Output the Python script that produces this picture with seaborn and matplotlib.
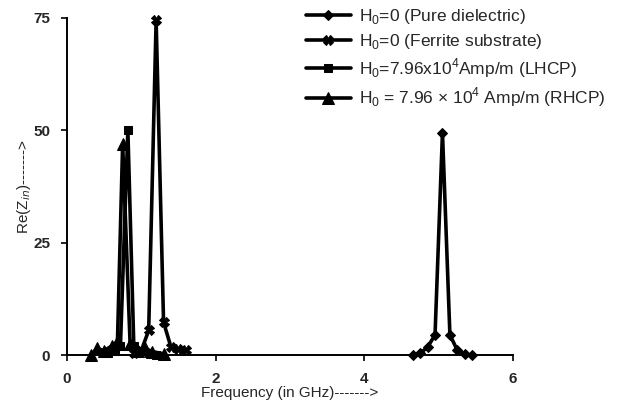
import numpy as np
import pandas as pd
import matplotlib
matplotlib.use("Agg")
import matplotlib.pyplot as plt
import seaborn as sns

# Data
pure_x = [4.65, 4.75, 4.85, 4.95, 5.05, 5.15, 5.25, 5.35, 5.45]
pure_y = [0.0, 0.4, 1.8, 4.5, 49.5, 4.5, 1.1, 0.2, 0.0]

ferr_x = [0.9, 1.0, 1.1, 1.2, 1.3, 1.4, 1.5, 1.6]
ferr_y = [0.5, 1.0, 5.5, 74.5, 7.3, 1.8, 1.3, 1.1]

lhcp_x = [0.55, 0.65, 0.72, 0.82, 0.9, 1.0, 1.1, 1.2]
lhcp_y = [0.5, 1.0, 2.0, 50.0, 2.0, 1.0, 0.5, 0.0]

rhcp_x = [0.32, 0.41, 0.5, 0.6, 0.68, 0.75, 0.85, 0.95, 1.05, 1.15, 1.3]
rhcp_y = [0.0, 1.5, 1.0, 2.0, 3.0, 47.0, 2.5, 1.0, 1.5, 0.8, 0.3]

labels = [r"H$_0$=0 (Pure dielectric)",
          r"H$_0$=0 (Ferrite substrate)",
          r"H$_0$=7.96x10$^4$Amp/m (LHCP)",
          r"H$_0$ = 7.96 × 10$^4$ Amp/m (RHCP)"]
markers = ["D", "X", "s", "^"]
xticks = [0, 2, 4, 6]
yticks = [0, 25, 50, 75]

sns.set_style("ticks")
plt.rcParams["font.family"] = ["Liberation Sans", "DejaVu Sans"]
plt.rcParams["mathtext.fontset"] = "custom"
plt.rcParams["mathtext.rm"] = "Liberation Sans"

fig = plt.figure(figsize=(6.25, 4.05), dpi=100)
ax = fig.add_axes([0.107, 0.123, 0.714, 0.833])

series = [(pure_x, pure_y), (ferr_x, ferr_y), (lhcp_x, lhcp_y), (rhcp_x, rhcp_y)]
msizes = [5.5, 7, 6, 8]
for (xs, ys), lab, mk, ms in zip(series, labels, markers, msizes):
    df = pd.DataFrame({"x": xs, "y": ys})
    sns.lineplot(data=df, x="x", y="y", ax=ax, color="black", linewidth=2.6,
                 marker=mk, markersize=ms, markeredgecolor="black",
                 markerfacecolor="black", label=lab, clip_on=False,
                 sort=False, estimator=None)

ax.set_xlim(0, 6)
ax.set_ylim(0, 75)
ax.set_xticks(xticks)
ax.set_yticks(yticks)
ax.set_xticklabels([str(t) for t in xticks], fontsize=11, fontweight="bold")
ax.set_yticklabels([str(t) for t in yticks], fontsize=11, fontweight="bold")
ax.tick_params(direction="out", length=4, width=1.2, color="black", pad=8)
for s in ["left", "bottom"]:
    ax.spines[s].set_linewidth(1.4)
    ax.spines[s].set_color("black")
sns.despine(ax=ax)

ax.set_xlabel("Frequency (in GHz)------->", fontsize=11, labelpad=0)
ax.set_ylabel(r"Re(Z$_{in}$)------->", fontsize=11, labelpad=0)

leg = ax.legend(loc="upper left", bbox_to_anchor=(0.478, 1.0),
                bbox_transform=fig.transFigure, frameon=False,
                fontsize=12.5, handlelength=2.6, labelspacing=0.33,
                handletextpad=0.45, borderaxespad=0)

fig.savefig("out.png", dpi=100)
